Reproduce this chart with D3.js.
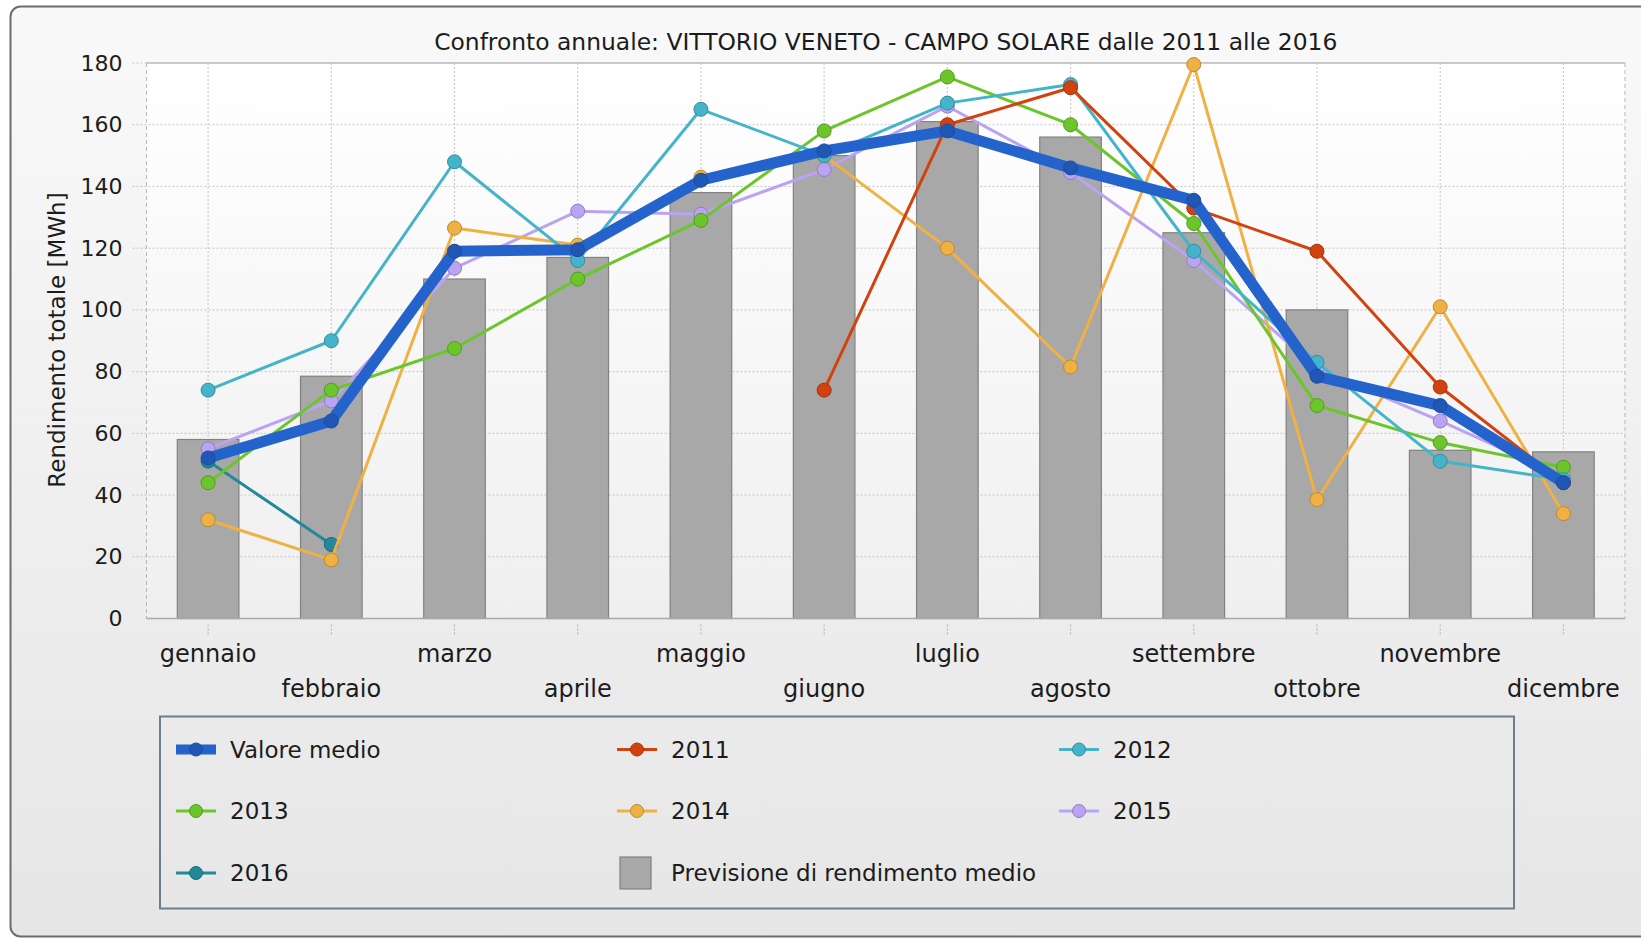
<!DOCTYPE html>
<html>
<head>
<meta charset="utf-8">
<script src="https://cdn.jsdelivr.net/npm/d3@7"></script>
<style>
body { margin: 0; background: #fff; }
text { font-family: "DejaVu Sans", Verdana, sans-serif; fill: #1c1c1c; }
</style>
</head>
<body>
<div id="chart-area"></div>
<script>
/*
*    confronto annuale - campo solare
*/
var months = ["gennaio", "febbraio", "marzo", "aprile", "maggio", "giugno",
	"luglio", "agosto", "settembre", "ottobre", "novembre", "dicembre"];
var yTicks = [0, 20, 40, 60, 80, 100, 120, 140, 160, 180];

var previsione = [58, 78.5, 110, 117, 138, 150, 161, 156, 125, 100, 54.5, 54];
var valoreMedio = [52, 64, 119, 119.5, 142, 151.5, 158, 146, 135.5, 78.5, 69, 44];
var anno2011 = [null, null, null, null, null, 74, 160, 172, 133, 119, 75, 44];
var anno2012 = [74, 90, 148, 116, 165, 150, 167, 173, 119, 83, 51, 45];
var anno2013 = [44, 74, 87.5, 110, 129, 158, 175.5, 160, 128, 69, 57, 49];
var anno2014 = [32, 19, 126.5, 121, 143, 150, 120, 81.5, 179.5, 38.5, 101, 34];
var anno2015 = [55, 70.5, 113.5, 132, 131, 145.5, 166, 144.5, 116, 81, 64, 46];
var anno2016 = [51, 24, null, null, null, null, null, null, null, null, null, null];

var title = "Confronto annuale: VITTORIO VENETO - CAMPO SOLARE dalle 2011 alle 2016";
var yLabel = "Rendimento totale [MWh]";
var barLabel = "Previsione di rendimento medio";

// series in drawing order (last on top)
var series = [
	{name: "2016", values: anno2016, color: "#22889a", width: 3, r: 7},
	{name: "2015", values: anno2015, color: "#b9a3f2", width: 3, r: 7},
	{name: "2014", values: anno2014, color: "#efb143", width: 3, r: 7},
	{name: "2013", values: anno2013, color: "#6cc62b", width: 3, r: 7},
	{name: "2012", values: anno2012, color: "#44b4ca", width: 3, r: 7},
	{name: "2011", values: anno2011, color: "#d2420f", width: 3, r: 7},
	{name: "Valore medio", values: valoreMedio, color: "#2463cc", width: 11, r: 7}
];
var legendOrder = ["Valore medio", "2011", "2012", "2013", "2014", "2015", "2016"];

var W = 1641, H = 940;
var plot = {left: 146.5, right: 1625, top: 63, bottom: 618.5};

var svg = d3.select("#chart-area")
	.append("svg")
	.attr("width", W)
	.attr("height", H);

var defs = svg.append("defs");
var pg = defs.append("linearGradient").attr("id", "panelGrad")
	.attr("x1", 0).attr("y1", 0).attr("x2", 0).attr("y2", 1);
pg.append("stop").attr("offset", "0%").attr("stop-color", "#f9f9f9");
pg.append("stop").attr("offset", "100%").attr("stop-color", "#e6e6e6");
var ag = defs.append("linearGradient").attr("id", "plotGrad")
	.attr("x1", 0).attr("y1", 0).attr("x2", 0).attr("y2", 1);
ag.append("stop").attr("offset", "0%").attr("stop-color", "#ffffff");
ag.append("stop").attr("offset", "100%").attr("stop-color", "#efefef");

// outer panel
svg.append("rect")
	.attr("x", 10.5).attr("y", 6.5)
	.attr("width", 1700).attr("height", 930)
	.attr("rx", 10).attr("ry", 10)
	.attr("fill", "url(#panelGrad)")
	.attr("stroke", "#6d6d6d")
	.attr("stroke-width", 2);

// plot background
svg.append("rect")
	.attr("x", plot.left).attr("y", plot.top)
	.attr("width", plot.right - plot.left).attr("height", plot.bottom - plot.top)
	.attr("fill", "url(#plotGrad)");

// Scale
var x = d3.scaleBand()
	.domain(months)
	.range([plot.left, plot.right])
	.padding(0);
var cx = (d) => { return x(d) + x.bandwidth() / 2; };
var y = d3.scaleLinear()
	.domain([0, 180])
	.range([plot.bottom, plot.top]);

// grid
var grid = svg.append("g").attr("class", "grid");
grid.selectAll("line.h").data(yTicks.filter((d) => { return d > 0 && d < 180; }))
	.enter().append("line")
	.attr("class", "h")
	.attr("x1", plot.left - 14).attr("x2", plot.right)
	.attr("y1", (d) => { return y(d); }).attr("y2", (d) => { return y(d); })
	.attr("stroke", "#c4c4c4").attr("stroke-dasharray", "2,2");
grid.append("line")
	.attr("x1", plot.left - 14).attr("x2", plot.left)
	.attr("y1", y(180)).attr("y2", y(180))
	.attr("stroke", "#c4c4c4").attr("stroke-dasharray", "2,2");
grid.selectAll("line.v").data(months)
	.enter().append("line")
	.attr("class", "v")
	.attr("x1", (d) => { return cx(d); }).attr("x2", (d) => { return cx(d); })
	.attr("y1", plot.top).attr("y2", plot.bottom)
	.attr("stroke", "#c4c4c4").attr("stroke-dasharray", "2,2");
grid.selectAll("line.t").data(months)
	.enter().append("line")
	.attr("class", "t")
	.attr("x1", (d) => { return cx(d); }).attr("x2", (d) => { return cx(d); })
	.attr("y1", plot.bottom + 6).attr("y2", plot.bottom + 18)
	.attr("stroke", "#b0b0b0").attr("stroke-dasharray", "2,2");

// plot border
svg.append("line")
	.attr("x1", plot.left).attr("x2", plot.right)
	.attr("y1", plot.top).attr("y2", plot.top)
	.attr("stroke", "#b8b8b8").attr("stroke-width", 1.5);
[plot.left, plot.right].forEach((px) => {
	svg.append("line")
		.attr("x1", px).attr("x2", px)
		.attr("y1", plot.top).attr("y2", plot.bottom)
		.attr("stroke", "#b8b8b8").attr("stroke-dasharray", "4,3");
});

// bars
var bw = x.bandwidth() * 0.5;
svg.selectAll("rect.bar").data(previsione)
	.enter().append("rect")
	.attr("class", "bar")
	.attr("x", (d, i) => { return cx(months[i]) - bw / 2; })
	.attr("y", (d) => { return y(d); })
	.attr("width", bw)
	.attr("height", (d) => { return y(0) - y(d); })
	.attr("fill", "#a8a8a8")
	.attr("stroke", "#818181")
	.attr("stroke-width", 1.2);

svg.append("line")
	.attr("x1", plot.left).attr("x2", plot.right)
	.attr("y1", plot.bottom).attr("y2", plot.bottom)
	.attr("stroke", "#a9a9a9").attr("stroke-width", 1.5);

// lines
var line = d3.line()
	.defined((d) => { return d != null; })
	.x((d, i) => { return cx(months[i]); })
	.y((d) => { return y(d); });

series.forEach((s) => {
	var gs = svg.append("g").attr("class", "series");
	gs.append("path")
		.datum(s.values)
		.attr("d", line)
		.attr("fill", "none")
		.attr("stroke", s.color)
		.attr("stroke-width", s.width)
		.attr("stroke-linejoin", "round")
		.attr("stroke-linecap", "round");
	var dotFill = s.width > 5 ? d3.color(s.color).darker(0.35) : s.color;
	gs.selectAll("circle")
		.data(s.values.map((v, i) => { return {v: v, m: months[i]}; }).filter((d) => { return d.v != null; }))
		.enter().append("circle")
		.attr("cx", (d) => { return cx(d.m); })
		.attr("cy", (d) => { return y(d.v); })
		.attr("r", s.r)
		.attr("fill", dotFill)
		.attr("stroke", d3.color(s.color).darker(0.7))
		.attr("stroke-width", 1);
});

// y axis
var leftAxis = d3.axisLeft(y).tickValues(yTicks).tickSize(0).tickPadding(0);
svg.append("g")
	.attr("class", "y axis")
	.attr("transform", "translate(" + (plot.left - 24) + ",0)")
	.call(leftAxis)
	.call((g) => { g.select(".domain").remove(); })
	.selectAll("text")
	.attr("font-size", "22px")
	.attr("font-family", "DejaVu Sans, sans-serif")
	.attr("fill", "#1c1c1c");

// x axis labels (staggered)
var bottomAxis = d3.axisBottom(x).tickSize(0).tickPadding(0);
svg.append("g")
	.attr("class", "x axis")
	.attr("transform", "translate(0," + plot.bottom + ")")
	.call(bottomAxis)
	.call((g) => { g.select(".domain").remove(); })
	.selectAll("text")
	.attr("font-size", "24px")
	.attr("font-family", "DejaVu Sans, sans-serif")
	.attr("fill", "#1c1c1c")
	.attr("dy", null)
	.attr("dominant-baseline", "central")
	.attr("y", (d, i) => { return i % 2 === 0 ? 35 : 70; });

// title
svg.append("text")
	.attr("x", (plot.left + plot.right) / 2)
	.attr("y", 42)
	.attr("text-anchor", "middle")
	.attr("dominant-baseline", "central")
	.attr("font-size", "23.4px")
	.text(title);

// y label
svg.append("text")
	.attr("transform", "translate(57," + 340 + ") rotate(-90)")
	.attr("text-anchor", "middle")
	.attr("dominant-baseline", "central")
	.attr("font-size", "23px")
	.text(yLabel);

// legend
var legend = svg.append("g").attr("class", "legend");
legend.append("rect")
	.attr("x", 160).attr("y", 716.5)
	.attr("width", 1354).attr("height", 192)
	.attr("fill", "none")
	.attr("stroke", "#6f7e8c")
	.attr("stroke-width", 2);

var colX = [176, 617, 1059];
var rowY = [749.5, 811, 873];
var items = legendOrder.map((n) => { return series.find((s) => { return s.name === n; }); });
items.forEach((s, i) => {
	var lx = colX[i % 3], ly = rowY[Math.floor(i / 3)];
	var li = legend.append("g");
	li.append("line")
		.attr("x1", lx).attr("x2", lx + 40)
		.attr("y1", ly).attr("y2", ly)
		.attr("stroke", s.color)
		.attr("stroke-width", s.width > 5 ? 10 : 3);
	li.append("circle")
		.attr("cx", lx + 20).attr("cy", ly)
		.attr("r", 6.5)
		.attr("fill", s.width > 5 ? d3.color(s.color).darker(0.35) : s.color)
		.attr("stroke", d3.color(s.color).darker(0.7));
	li.append("text")
		.attr("x", lx + 54).attr("y", ly)
		.attr("dominant-baseline", "central")
		.attr("font-size", "23px")
		.text(s.name);
});
var bi = legend.append("g");
bi.append("rect")
	.attr("x", colX[1] + 3).attr("y", rowY[2] - 16)
	.attr("width", 31).attr("height", 32)
	.attr("fill", "#a8a8a8")
	.attr("stroke", "#818181")
	.attr("stroke-width", 1.2);
bi.append("text")
	.attr("x", colX[1] + 54).attr("y", rowY[2])
	.attr("dominant-baseline", "central")
	.attr("font-size", "23px")
	.text(barLabel);
</script>
</body>
</html>
